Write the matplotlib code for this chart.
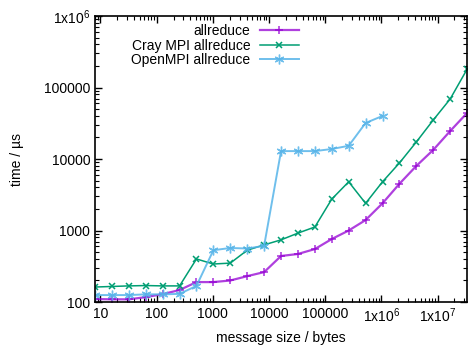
import matplotlib
matplotlib.use("Agg")
import matplotlib.pyplot as plt
from matplotlib.ticker import LogLocator, FixedLocator, NullFormatter

plt.rcParams['font.family'] = ['Liberation Sans', 'DejaVu Sans']
plt.rcParams['mathtext.default'] = 'regular'

# message sizes (bytes): 8 .. 2^25
sizes = [2 ** k for k in range(3, 26)]

allreduce = [110, 109, 109, 117, 129, 147, 190, 190, 200, 230, 262, 440, 470,
             550, 760, 1000, 1400, 2400, 4500, 8000, 13400, 24600, 44000]
cray = [162, 165, 168, 170, 168, 168, 400, 340, 350, 530, 630, 740, 920,
        1120, 2750, 4800, 2400, 4800, 8800, 17300, 35100, 69000, 180000]
openmpi = [125, 125, 125, 128, 128, 130, 168, 530, 570, 560, 610, 12900, 12900,
           12900, 13800, 15300, 31900, 40000]

x_ticks = [10, 100, 1000, 10000, 100000, 1e6, 1e7]
x_labels = ["10", "100", "1000", "10000", "100000", "1x10$^{6}$", "1x10$^{7}$"]
y_ticks = [100, 1000, 10000, 100000, 1e6]
y_labels = ["100", "1000", "10000", "100000", "1x10$^{6}$"]

fig = plt.figure(figsize=(4.68, 3.45), dpi=100)
ax = fig.add_axes([0.203, 0.1246, 0.795, 0.829])

asterisk = (6, 2, 0)
ax.plot(sizes, allreduce, color="#9400d3", lw=1.6, alpha=0.75, marker="+",
        ms=6, mew=1.2, label="allreduce")
ax.plot(sizes, cray, color="#009e73", lw=1.1, marker="x", ms=5, mew=1.1,
        label="Cray MPI allreduce")
ax.plot(sizes[:len(openmpi)], openmpi, color="#56b4e9", lw=1.4, alpha=0.85,
        marker=asterisk, ms=7, mew=1.0, label="OpenMPI allreduce")

ax.set_xscale("log")
ax.set_yscale("log")
ax.set_xlim(8, 2 ** 25)
ax.set_ylim(100, 1e6)

ax.xaxis.set_major_locator(FixedLocator(x_ticks))
ax.set_xticklabels(x_labels)
ax.yaxis.set_major_locator(FixedLocator(y_ticks))
ax.set_yticklabels(y_labels)
ax.xaxis.set_minor_locator(LogLocator(base=10, subs=range(2, 10), numticks=20))
ax.yaxis.set_minor_locator(LogLocator(base=10, subs=range(2, 10), numticks=20))
ax.xaxis.set_minor_formatter(NullFormatter())
ax.yaxis.set_minor_formatter(NullFormatter())

ax.tick_params(which="both", direction="in", top=True, right=True, labelsize=10)
ax.tick_params(which="major", length=5, width=1)
ax.tick_params(which="minor", length=3, width=0.8)
for s in ax.spines.values():
    s.set_linewidth(1.2)

ax.set_xlabel("message size / bytes", fontsize=10, labelpad=4)
ax.set_ylabel("time / µs", fontsize=10, labelpad=14)

ax.legend(loc="upper right", bbox_to_anchor=(0.574, 1.005), frameon=False,
          fontsize=10, markerfirst=False, handlelength=2.8, labelspacing=0.02,
          borderaxespad=0.3, handletextpad=0.7)
leg = ax.get_legend()
for t in leg.get_texts():
    t.set_ha("right")

fig.savefig("out.png", dpi=100)
